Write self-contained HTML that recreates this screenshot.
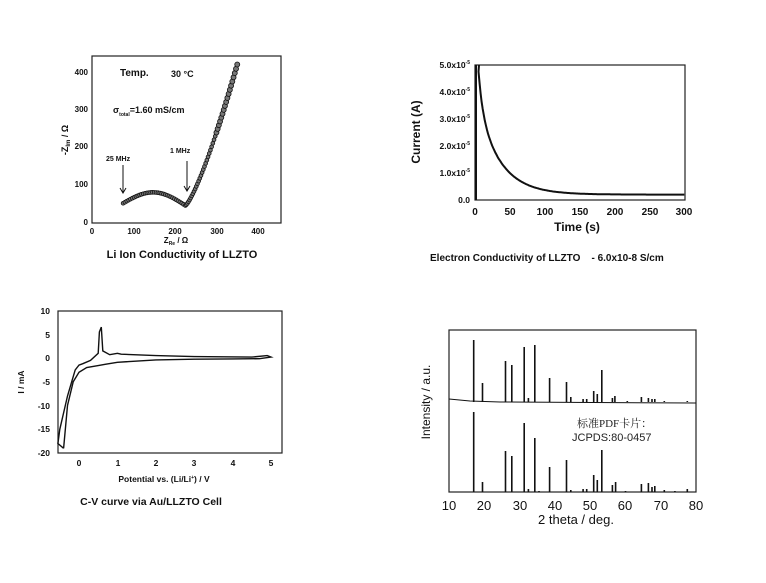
<!DOCTYPE html>
<html><head><meta charset="utf-8"><style>
html,body{margin:0;padding:0;background:#fff;}
svg{display:block;font-family:"Liberation Sans","Noto Sans CJK SC",sans-serif;}
</style></head><body>
<svg id="s" width="766" height="583" viewBox="0 0 766 583" xmlns="http://www.w3.org/2000/svg">
<rect width="766" height="583" fill="#fff"/>
<!-- Plot 1 -->
<rect x="92" y="56" width="189" height="167" fill="none" stroke="#222" stroke-width="1.2"/>
<g font-size="8" font-weight="bold" fill="#111" text-anchor="end">
<text x="88" y="225">0</text><text x="88" y="187">100</text><text x="88" y="149">200</text><text x="88" y="112">300</text><text x="88" y="75">400</text>
</g>
<g font-size="8" font-weight="bold" fill="#111" text-anchor="middle">
<text x="92" y="234">0</text><text x="134" y="234">100</text><text x="175" y="234">200</text><text x="217" y="234">300</text><text x="258" y="234">400</text>
<text x="176" y="243">Z<tspan font-size="5" dy="2">Re</tspan><tspan dy="-2"> / Ω</tspan></text>
</g>
<text transform="translate(68,140) rotate(-90)" font-size="9" font-weight="bold" text-anchor="middle" fill="#111">-Z<tspan font-size="6" dy="2">Im</tspan><tspan dy="-2"> / Ω</tspan></text>
<text x="120" y="76" font-size="10" font-weight="bold" fill="#111">Temp.</text>
<text x="171" y="77" font-size="9" font-weight="bold" fill="#111">30 °C</text>
<text x="113" y="113" font-size="9" font-weight="bold" fill="#111">σ<tspan font-size="5" dy="3">total</tspan><tspan dy="-3">=1.60 mS/cm</tspan></text>
<text x="106" y="161" font-size="7" font-weight="bold" fill="#111">25 MHz</text>
<text x="170" y="153" font-size="7" font-weight="bold" fill="#111">1 MHz</text>
<path d="M123 165V193M120 188l3 5 3-5M187 161V191M184 186l3 5 3-5" stroke="#111" fill="none" stroke-width="1"/>
<g id="nyq" fill="#777" stroke="#111" stroke-width="0.8"></g>
<text x="182" y="258" font-size="11" font-weight="bold" fill="#111" text-anchor="middle">Li Ion Conductivity of LLZTO</text>

<!-- Plot 2 -->
<rect x="475" y="65" width="210" height="135" fill="none" stroke="#222" stroke-width="1.2"/>
<g font-size="8.5" font-weight="bold" fill="#111" text-anchor="end">
<text x="470" y="203">0.0</text><text x="470" y="176">1.0x10<tspan font-size="5" dy="-4">-5</tspan></text><text x="470" y="149">2.0x10<tspan font-size="5" dy="-4">-5</tspan></text><text x="470" y="122">3.0x10<tspan font-size="5" dy="-4">-5</tspan></text><text x="470" y="95">4.0x10<tspan font-size="5" dy="-4">-5</tspan></text><text x="470" y="68">5.0x10<tspan font-size="5" dy="-4">-5</tspan></text>
</g>
<g font-size="10" font-weight="bold" fill="#111" text-anchor="middle">
<text x="475" y="215">0</text><text x="510" y="215">50</text><text x="545" y="215">100</text><text x="580" y="215">150</text><text x="615" y="215">200</text><text x="650" y="215">250</text><text x="684" y="215">300</text>
<text x="577" y="231" font-size="12">Time (s)</text>
</g>
<text transform="translate(420,132) rotate(-90)" font-size="12" font-weight="bold" text-anchor="middle" fill="#111">Current (A)</text>
<path id="decay" fill="none" stroke="#111" stroke-width="2"/>
<text x="430" y="261" font-size="10" font-weight="bold" fill="#111" xml:space="preserve">Electron Conductivity of LLZTO    - 6.0x10-8 S/cm</text>

<!-- Plot 3 -->
<rect x="58" y="311" width="224" height="142" fill="none" stroke="#222" stroke-width="1.2"/>
<g font-size="8.5" font-weight="bold" fill="#111" text-anchor="end">
<text x="50" y="314">10</text><text x="50" y="338">5</text><text x="50" y="361">0</text><text x="50" y="385">-5</text><text x="50" y="409">-10</text><text x="50" y="432">-15</text><text x="50" y="456">-20</text>
</g>
<g font-size="8.5" font-weight="bold" fill="#111" text-anchor="middle">
<text x="79" y="466">0</text><text x="118" y="466">1</text><text x="156" y="466">2</text><text x="194" y="466">3</text><text x="233" y="466">4</text><text x="271" y="466">5</text>
<text x="164" y="482">Potential vs. (Li/Li<tspan font-size="5" dy="-3">+</tspan><tspan dy="3">) / V</tspan></text>
</g>
<text transform="translate(24,382) rotate(-90)" font-size="8.5" font-weight="bold" text-anchor="middle" fill="#111">I / mA</text>
<path id="cv" fill="none" stroke="#111" stroke-width="1.4"/>
<text x="151" y="505" font-size="10.5" font-weight="bold" fill="#111" text-anchor="middle">C-V curve via Au/LLZTO Cell</text>

<!-- Plot 4 -->
<rect x="449" y="330" width="247" height="162" fill="none" stroke="#222" stroke-width="1.2"/>
<g id="xrd" stroke="#111" stroke-width="1.6"></g>
<path id="base" fill="none" stroke="#111" stroke-width="1"/>
<g font-size="13" fill="#111" text-anchor="middle">
<text x="449" y="510">10</text><text x="484" y="510">20</text><text x="520" y="510">30</text><text x="555" y="510">40</text><text x="590" y="510">50</text><text x="625" y="510">60</text><text x="661" y="510">70</text><text x="696" y="510">80</text>
<text x="576" y="524">2 theta / deg.</text>
</g>
<text transform="translate(430,402) rotate(-90)" font-size="12" text-anchor="middle" fill="#111">Intensity / a.u.</text>
<text x="577" y="427" font-size="11" fill="#222" font-family="Liberation Serif, Noto Serif CJK SC, serif">标准PDF卡片：</text>
<text x="572" y="441" font-size="11" fill="#222">JCPDS:80-0457</text>
</svg>
<script>
(function(){
var ns="http://www.w3.org/2000/svg";
function nx(v){return 92+v*0.415} function ny(v){return 222-v*0.375}
var g=document.getElementById('nyq'),pts=[];
for(var i=0;i<=34;i++){var t=i/34,th=Math.PI*t;var x=75+150*t,y=50+32*Math.sin(th)-6*t;pts.push([x,y]);}
for(var i=1;i<=44;i++){var t=i/44;var x=225+125*Math.pow(t,1.05),y=44+376*Math.pow(t,1.35);pts.push([x,y]);}
pts.forEach(function(p,k){var c=document.createElementNS(ns,'circle');c.setAttribute('cx',nx(p[0]));c.setAttribute('cy',ny(p[1]));c.setAttribute('r',k>60?2.5:1.9);g.appendChild(c);});
var d="M476 200 L476 65 M479 65 ";
for(var t=5;t<=300;t+=1.5){var I=0.2+3.8*Math.exp(-t/32)+3*Math.exp(-t/6);if(I>5)I=5;d+="L"+(475+t*0.7).toFixed(1)+" "+(200-I*27).toFixed(1)+" ";}
document.getElementById('decay').setAttribute('d',d);
function cx(v){return 79+v*38.4} function cy(v){return 358-v*4.75}
var c=[[-0.4,-19],[-0.3,-10],[-0.15,-5],[0,-3],[0.2,-2],[0.5,-1.6],[0.7,-1.3],[1,-0.9],[2,-0.4],[3,-0.25],[4,-0.2],[4.7,-0.15],[5,0.2],[4.9,0.5],[4.5,0.2],[3,0.3],[2,0.5],[1.1,0.8],[1,1],[0.8,0.7],[0.62,1.5],[0.58,6.5],[0.53,5.5],[0.5,1],[0.3,-0.5],[0.1,-1.2],[0,-1.5],[-0.1,-2.5],[-0.3,-8],[-0.5,-15],[-0.55,-18],[-0.4,-19]];
document.getElementById('cv').setAttribute('d','M'+c.map(function(p){return cx(p[0]).toFixed(1)+' '+cy(p[1]).toFixed(1)}).join(' L'));
function tx(v){return 449+(v-10)*3.53}
var tp=[[17,62],[19.5,19],[26,41],[27.8,37],[31.3,55],[32.5,4],[34.3,57],[38.5,24],[43.3,20],[44.5,5],[48,3],[49,3],[51,11],[52,8],[53.3,32],[56.3,4],[57,6],[60.5,1],[64.5,5],[66.5,4],[67.5,3],[68.3,3],[71,1],[77.5,1]];
var bt=[[17,80],[19.5,10],[26,41],[27.8,36],[31.3,69],[32.5,3],[34.3,54],[35.5,1],[38.5,25],[43.3,32],[44.5,2],[48,3],[49,3],[51,17],[52,12],[53.3,42],[56.3,7],[57.2,10],[60,1],[64.5,8],[66.5,9],[67.5,5],[68.3,6],[71,2],[74,1],[77.5,3]];
var pd="";
tp.forEach(function(p){pd+="M"+tx(p[0]).toFixed(1)+" 402V"+(402-p[1])+" ";});
bt.forEach(function(p){pd+="M"+tx(p[0]).toFixed(1)+" 492V"+(492-p[1])+" ";});
var pe=document.createElementNS(ns,'path');pe.setAttribute('d',pd);document.getElementById('xrd').appendChild(pe);
document.getElementById('base').setAttribute('d','M449 399 L470 401 L500 402 L696 403');
})();
</script>
</body></html>
